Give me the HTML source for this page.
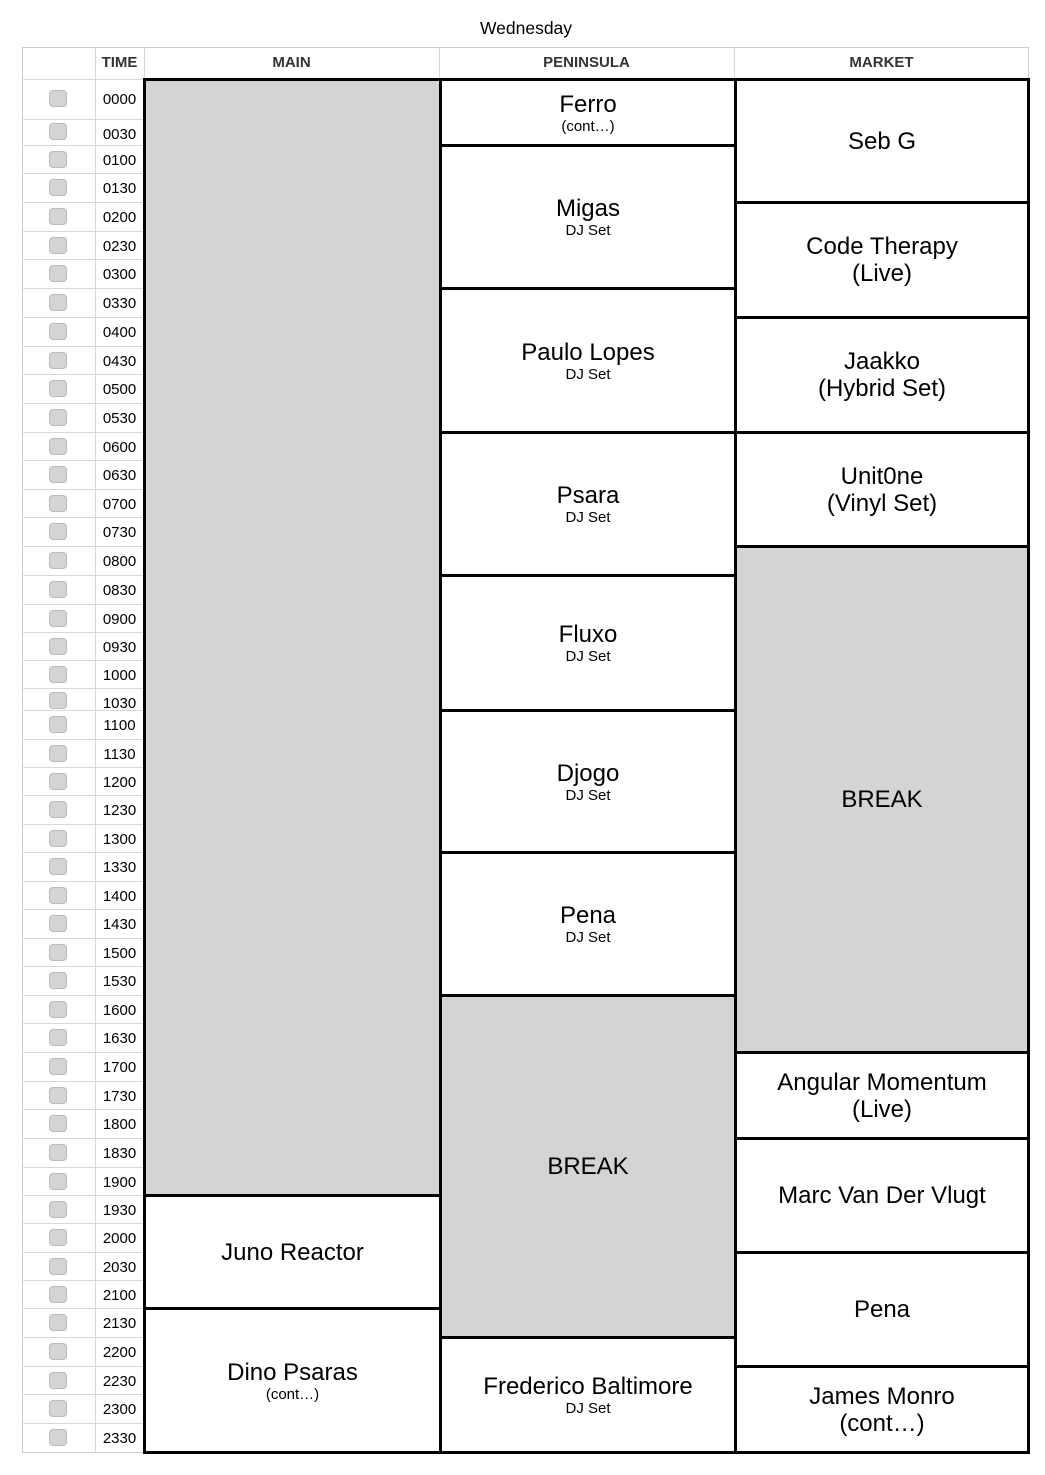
<!DOCTYPE html>
<html><head><meta charset="utf-8"><style>
*{margin:0;padding:0;box-sizing:border-box}
body{width:1045px;height:1475px;background:#fff;font-family:"Liberation Sans",Arial,sans-serif;color:#000;position:relative;overflow:hidden}
.a{position:absolute}
.title{left:0;width:1052px;top:18px;text-align:center;font-size:17.5px}
.hdr{top:47px;height:32px;font-size:15px;font-weight:bold;color:#333;text-align:center;line-height:32px}
.hl{left:22px;width:122px;height:1px;background:#d8d8d8}
.vl{width:1px;background:#d8d8d8}
.t{left:95px;width:49px;text-align:center;font-size:15px;line-height:16px}
.cb{left:49px;width:18px;height:17px;border:1px solid #bbb;border-radius:4px;background:#d4d4d4}
.b{border:3px solid #000;display:flex;flex-direction:column;justify-content:center;align-items:center;text-align:center;font-size:24px;line-height:27px}
.g{background:#d4d4d4}
.s{font-size:15px;line-height:17px}
</style></head><body>
<div class="a title">Wednesday</div>
<div class="a" style="left:22px;top:47px;width:1007px;height:1406px;border:1px solid #ccc"></div>
<div class="a vl" style="left:95px;top:47px;height:1406px"></div>
<div class="a vl" style="left:144px;top:47px;height:32px"></div>
<div class="a vl" style="left:439px;top:47px;height:32px"></div>
<div class="a vl" style="left:734px;top:47px;height:32px"></div>
<div class="a hl" style="top:79px"></div>
<div class="a hdr" style="left:95px;width:49px">TIME</div>
<div class="a hdr" style="left:144px;width:295px">MAIN</div>
<div class="a hdr" style="left:439px;width:295px">PENINSULA</div>
<div class="a hdr" style="left:734px;width:295px">MARKET</div>

<div class="a hl" style="top:119px"></div><div class="a hl" style="top:145px"></div><div class="a hl" style="top:173px"></div><div class="a hl" style="top:202px"></div><div class="a hl" style="top:231px"></div><div class="a hl" style="top:259px"></div><div class="a hl" style="top:288px"></div><div class="a hl" style="top:317px"></div><div class="a hl" style="top:346px"></div><div class="a hl" style="top:374px"></div><div class="a hl" style="top:403px"></div><div class="a hl" style="top:432px"></div><div class="a hl" style="top:460px"></div><div class="a hl" style="top:489px"></div><div class="a hl" style="top:517px"></div><div class="a hl" style="top:546px"></div><div class="a hl" style="top:575px"></div><div class="a hl" style="top:604px"></div><div class="a hl" style="top:632px"></div><div class="a hl" style="top:660px"></div><div class="a hl" style="top:688px"></div><div class="a hl" style="top:710px"></div><div class="a hl" style="top:739px"></div><div class="a hl" style="top:767px"></div><div class="a hl" style="top:795px"></div><div class="a hl" style="top:824px"></div><div class="a hl" style="top:852px"></div><div class="a hl" style="top:881px"></div><div class="a hl" style="top:909px"></div><div class="a hl" style="top:938px"></div><div class="a hl" style="top:966px"></div><div class="a hl" style="top:995px"></div><div class="a hl" style="top:1023px"></div><div class="a hl" style="top:1052px"></div><div class="a hl" style="top:1081px"></div><div class="a hl" style="top:1109px"></div><div class="a hl" style="top:1138px"></div><div class="a hl" style="top:1167px"></div><div class="a hl" style="top:1195px"></div><div class="a hl" style="top:1223px"></div><div class="a hl" style="top:1252px"></div><div class="a hl" style="top:1280px"></div><div class="a hl" style="top:1308px"></div><div class="a hl" style="top:1337px"></div><div class="a hl" style="top:1366px"></div><div class="a hl" style="top:1394px"></div><div class="a hl" style="top:1423px"></div>

<div class="a cb" style="top:90px"></div><div class="a t" style="top:92px">0000</div>
<div class="a cb" style="top:123px"></div><div class="a t" style="top:127px">0030</div>
<div class="a cb" style="top:151px"></div><div class="a t" style="top:153px">0100</div>
<div class="a cb" style="top:179px"></div><div class="a t" style="top:181px">0130</div>
<div class="a cb" style="top:208px"></div><div class="a t" style="top:210px">0200</div>
<div class="a cb" style="top:237px"></div><div class="a t" style="top:239px">0230</div>
<div class="a cb" style="top:265px"></div><div class="a t" style="top:267px">0300</div>
<div class="a cb" style="top:294px"></div><div class="a t" style="top:296px">0330</div>
<div class="a cb" style="top:323px"></div><div class="a t" style="top:325px">0400</div>
<div class="a cb" style="top:352px"></div><div class="a t" style="top:354px">0430</div>
<div class="a cb" style="top:380px"></div><div class="a t" style="top:382px">0500</div>
<div class="a cb" style="top:409px"></div><div class="a t" style="top:411px">0530</div>
<div class="a cb" style="top:438px"></div><div class="a t" style="top:440px">0600</div>
<div class="a cb" style="top:466px"></div><div class="a t" style="top:468px">0630</div>
<div class="a cb" style="top:495px"></div><div class="a t" style="top:497px">0700</div>
<div class="a cb" style="top:523px"></div><div class="a t" style="top:525px">0730</div>
<div class="a cb" style="top:552px"></div><div class="a t" style="top:554px">0800</div>
<div class="a cb" style="top:581px"></div><div class="a t" style="top:583px">0830</div>
<div class="a cb" style="top:610px"></div><div class="a t" style="top:612px">0900</div>
<div class="a cb" style="top:638px"></div><div class="a t" style="top:640px">0930</div>
<div class="a cb" style="top:666px"></div><div class="a t" style="top:668px">1000</div>
<div class="a cb" style="top:692px"></div><div class="a t" style="top:696px">1030</div>
<div class="a cb" style="top:716px"></div><div class="a t" style="top:718px">1100</div>
<div class="a cb" style="top:745px"></div><div class="a t" style="top:747px">1130</div>
<div class="a cb" style="top:773px"></div><div class="a t" style="top:775px">1200</div>
<div class="a cb" style="top:801px"></div><div class="a t" style="top:803px">1230</div>
<div class="a cb" style="top:830px"></div><div class="a t" style="top:832px">1300</div>
<div class="a cb" style="top:858px"></div><div class="a t" style="top:860px">1330</div>
<div class="a cb" style="top:887px"></div><div class="a t" style="top:889px">1400</div>
<div class="a cb" style="top:915px"></div><div class="a t" style="top:917px">1430</div>
<div class="a cb" style="top:944px"></div><div class="a t" style="top:946px">1500</div>
<div class="a cb" style="top:972px"></div><div class="a t" style="top:974px">1530</div>
<div class="a cb" style="top:1001px"></div><div class="a t" style="top:1003px">1600</div>
<div class="a cb" style="top:1029px"></div><div class="a t" style="top:1031px">1630</div>
<div class="a cb" style="top:1058px"></div><div class="a t" style="top:1060px">1700</div>
<div class="a cb" style="top:1087px"></div><div class="a t" style="top:1089px">1730</div>
<div class="a cb" style="top:1115px"></div><div class="a t" style="top:1117px">1800</div>
<div class="a cb" style="top:1144px"></div><div class="a t" style="top:1146px">1830</div>
<div class="a cb" style="top:1173px"></div><div class="a t" style="top:1175px">1900</div>
<div class="a cb" style="top:1201px"></div><div class="a t" style="top:1203px">1930</div>
<div class="a cb" style="top:1229px"></div><div class="a t" style="top:1231px">2000</div>
<div class="a cb" style="top:1258px"></div><div class="a t" style="top:1260px">2030</div>
<div class="a cb" style="top:1286px"></div><div class="a t" style="top:1288px">2100</div>
<div class="a cb" style="top:1314px"></div><div class="a t" style="top:1316px">2130</div>
<div class="a cb" style="top:1343px"></div><div class="a t" style="top:1345px">2200</div>
<div class="a cb" style="top:1372px"></div><div class="a t" style="top:1374px">2230</div>
<div class="a cb" style="top:1400px"></div><div class="a t" style="top:1402px">2300</div>
<div class="a cb" style="top:1429px"></div><div class="a t" style="top:1431px">2330</div>

<!-- MAIN -->
<div class="a b g" style="left:143px;top:78px;width:299px;height:1119px"></div>
<div class="a b" style="left:143px;top:1194px;width:299px;height:116px">Juno Reactor</div>
<div class="a b" style="left:143px;top:1307px;width:299px;height:147px">Dino Psaras<div class="s">(cont…)</div></div>
<!-- PENINSULA -->
<div class="a b" style="left:439px;top:78px;width:298px;height:69px">Ferro<div class="s">(cont…)</div></div>
<div class="a b" style="left:439px;top:144px;width:298px;height:146px">Migas<div class="s">DJ Set</div></div>
<div class="a b" style="left:439px;top:287px;width:298px;height:147px">Paulo Lopes<div class="s">DJ Set</div></div>
<div class="a b" style="left:439px;top:431px;width:298px;height:146px">Psara<div class="s">DJ Set</div></div>
<div class="a b" style="left:439px;top:574px;width:298px;height:138px">Fluxo<div class="s">DJ Set</div></div>
<div class="a b" style="left:439px;top:709px;width:298px;height:145px">Djogo<div class="s">DJ Set</div></div>
<div class="a b" style="left:439px;top:851px;width:298px;height:146px">Pena<div class="s">DJ Set</div></div>
<div class="a b g" style="left:439px;top:994px;width:298px;height:345px">BREAK</div>
<div class="a b" style="left:439px;top:1336px;width:298px;height:118px">Frederico Baltimore<div class="s">DJ Set</div></div>
<!-- MARKET -->
<div class="a b" style="left:734px;top:78px;width:296px;height:126px">Seb G</div>
<div class="a b" style="left:734px;top:201px;width:296px;height:118px">Code Therapy<br>(Live)</div>
<div class="a b" style="left:734px;top:316px;width:296px;height:118px">Jaakko<br>(Hybrid Set)</div>
<div class="a b" style="left:734px;top:431px;width:296px;height:117px">Unit0ne<br>(Vinyl Set)</div>
<div class="a b g" style="left:734px;top:545px;width:296px;height:509px">BREAK</div>
<div class="a b" style="left:734px;top:1051px;width:296px;height:89px">Angular Momentum<br>(Live)</div>
<div class="a b" style="left:734px;top:1137px;width:296px;height:117px">Marc Van Der Vlugt</div>
<div class="a b" style="left:734px;top:1251px;width:296px;height:117px">Pena</div>
<div class="a b" style="left:734px;top:1365px;width:296px;height:89px">James Monro<br>(cont…)</div>
</body></html>
